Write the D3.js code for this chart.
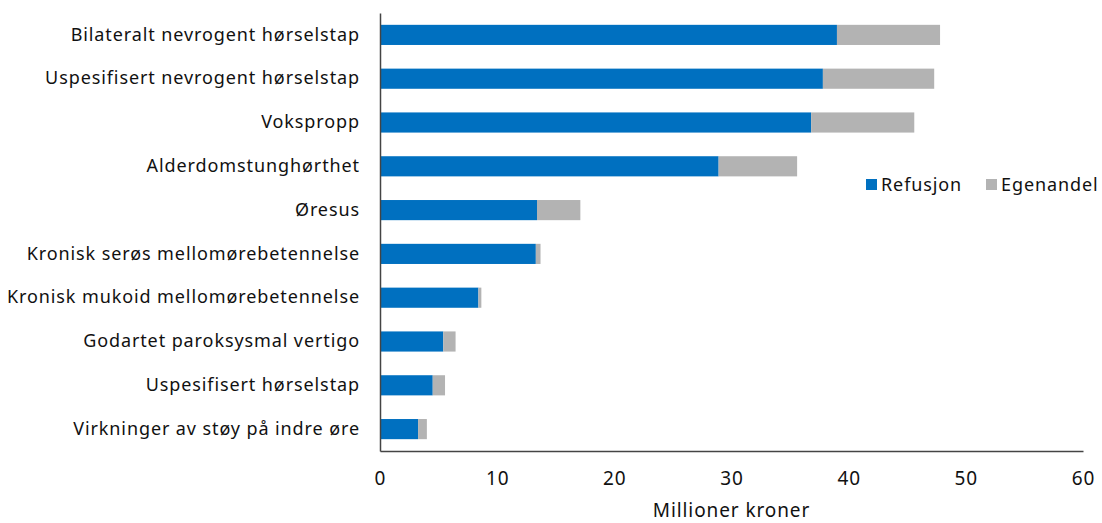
<!DOCTYPE html>
<html><head><meta charset="utf-8">
<script src="https://cdn.jsdelivr.net/npm/d3@7"></script>
<style>body{margin:0;background:#fff}svg{display:block}text{font-family:"Noto Sans",sans-serif;fill:#111}</style>
</head><body>
<svg id="c" width="1102" height="523"></svg>
<script>
const categories = ["Bilateralt nevrogent hørselstap","Uspesifisert nevrogent hørselstap","Vokspropp","Alderdomstunghørthet","Øresus","Kronisk serøs mellomørebetennelse","Kronisk mukoid mellomørebetennelse","Godartet paroksysmal vertigo","Uspesifisert hørselstap","Virkninger av støy på indre øre"];
const refusjon = [39.0, 37.8, 36.8, 28.9, 13.4, 13.3, 8.4, 5.4, 4.5, 3.25];
const egenandel = [8.8, 9.5, 8.8, 6.7, 3.7, 0.4, 0.25, 1.05, 1.05, 0.75];
const seriesNames = ["Refusjon","Egenandel"];
const colors = ["#0070C0","#B3B3B3"];
const xTicks = [0,10,20,30,40,50,60];

const svg = d3.select("#c");
const m = {l:380, r:1083, t:13, b:451};
const x = d3.scaleLinear().domain([0,60]).range([m.l, m.r]);
const y = d3.scaleBand().domain(categories).range([m.t, m.b]).paddingInner(0.54).paddingOuter(0.27);

const data = categories.map((c,i)=>({cat:c, Refusjon:refusjon[i], Egenandel:egenandel[i]}));
const stack = d3.stack().keys(seriesNames)(data);

svg.append("g").selectAll("g").data(stack).join("g")
  .attr("fill",(d,i)=>colors[i])
  .selectAll("rect").data(d=>d).join("rect")
  .attr("x",d=>x(d[0])).attr("width",d=>x(d[1])-x(d[0]))
  .attr("y",d=>y(d.data.cat)).attr("height",y.bandwidth());

const ls = "0.9px";
// axes
const xa = svg.append("g").attr("transform",`translate(0,${m.b})`)
  .call(d3.axisBottom(x).tickValues(xTicks).tickSize(0).tickPadding(21));
xa.select(".domain").attr("stroke","#444").attr("stroke-width",1.5);
xa.selectAll("text").style("font-size","19px").style("font-family","'Noto Sans',sans-serif").style("letter-spacing",ls).attr("fill","#111");

const ya = svg.append("g").attr("transform",`translate(${m.l},0)`)
  .call(d3.axisLeft(y).tickSize(0).tickPadding(20));
ya.select(".domain").attr("stroke","#444").attr("stroke-width",1.5);
ya.selectAll("text").style("font-size","18px").style("font-family","'Noto Sans',sans-serif").style("letter-spacing",ls).attr("fill","#111");

svg.append("text").attr("x",(m.l+m.r)/2).attr("y",517).attr("text-anchor","middle")
  .style("font-size","19px").style("letter-spacing",ls).text("Millioner kroner");

// legend
const leg = svg.append("g");
const lx = [866, 986];
seriesNames.forEach((s,i)=>{
  leg.append("rect").attr("x",lx[i]).attr("y",179).attr("width",11).attr("height",11).attr("fill",colors[i]);
  leg.append("text").attr("x",lx[i]+15).attr("y",191).style("font-size","18px").style("letter-spacing",ls).text(s);
});
</script>
</body></html>
